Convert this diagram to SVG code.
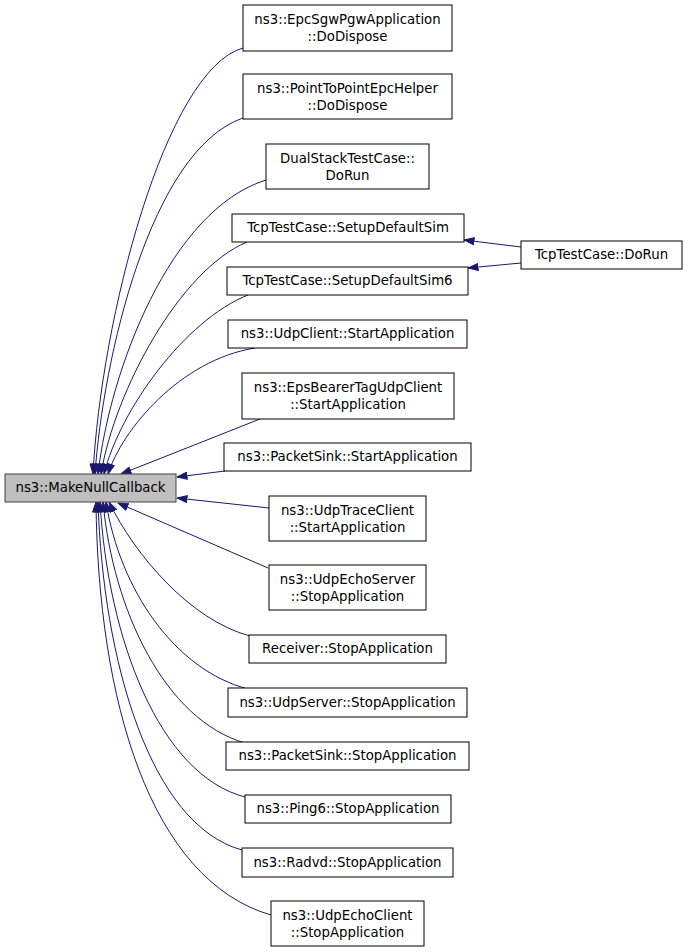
<svg xmlns="http://www.w3.org/2000/svg" width="688" height="952" viewBox="0 0 688 952">
<style>
.node rect{fill:#ffffff;stroke:#000000;stroke-width:1}
#main rect{fill:#bfbfbf;stroke:#404040}
text{font-family:"DejaVu Sans","Liberation Sans",sans-serif;font-size:13.3px;fill:#000000;text-anchor:middle}
.edge{fill:none;stroke:#191970;stroke-width:1;marker-start:url(#arrow)}
</style>
<defs>
<marker id="arrow" markerUnits="userSpaceOnUse" markerWidth="11" markerHeight="8" refX="10.5" refY="4" orient="auto-start-reverse">
<path d="M0.5,0.5 L10.5,4 L0.5,7.5 z" fill="#191970" stroke="#191970" stroke-width="1"/>
</marker>
</defs>
<rect width="688" height="952" fill="#ffffff"/>
<g id="connectors">
<path class="edge" d="M93,474 C101,320 165,70 243,48"/>
<path class="edge" d="M95,474 C103,360 150,150 243,118"/>
<path class="edge" d="M98,474 C110,370 170,210 266,180"/>
<path class="edge" d="M101,474 C115,390 180,270 247,242"/>
<path class="edge" d="M104,474 C120,410 185,320 248,295"/>
<path class="edge" d="M108,474 C122,430 180,360 255,348"/>
<path class="edge" d="M121,474 L260,419"/>
<path class="edge" d="M177,477 L225,471"/>
<path class="edge" d="M177,498 L269,508"/>
<path class="edge" d="M118,503 L268,568"/>
<path class="edge" d="M109,502 C135,555 190,620 250,636"/>
<path class="edge" d="M106,502 C120,590 175,670 248,689"/>
<path class="edge" d="M103,502 C113,610 165,720 245,743"/>
<path class="edge" d="M100,502 C108,640 160,775 245,797"/>
<path class="edge" d="M98,502 C103,660 150,825 242,850"/>
<path class="edge" d="M96,502 C98,700 150,880 271,915"/>
<path class="edge" d="M464,240 L521,247"/>
<path class="edge" d="M468,268 L521,263"/>
</g>
<g id="main" class="node"><rect x="5" y="474" width="171" height="28"/><text x="90.5" y="492">ns3::MakeNullCallback</text></g>
<g id="n1" class="node"><rect x="243" y="5" width="209" height="46"/><text x="347.5" y="24">ns3::EpcSgwPgwApplication</text><text x="347.5" y="41">::DoDispose</text></g>
<g id="n2" class="node"><rect x="243" y="74" width="209" height="45"/><text x="347.5" y="93">ns3::PointToPointEpcHelper</text><text x="347.5" y="110">::DoDispose</text></g>
<g id="n3" class="node"><rect x="266" y="144" width="163" height="45"/><text x="347.5" y="163">DualStackTestCase::</text><text x="347.5" y="180">DoRun</text></g>
<g id="n4" class="node"><rect x="232" y="214" width="232" height="28"/><text x="348" y="232">TcpTestCase::SetupDefaultSim</text></g>
<g id="n5" class="node"><rect x="227" y="267" width="241" height="28"/><text x="347.5" y="285">TcpTestCase::SetupDefaultSim6</text></g>
<g id="n17" class="node"><rect x="521" y="241" width="161" height="28"/><text x="601.5" y="259">TcpTestCase::DoRun</text></g>
<g id="n6" class="node"><rect x="228" y="320" width="239" height="28"/><text x="347.5" y="338">ns3::UdpClient::StartApplication</text></g>
<g id="n7" class="node"><rect x="242" y="373" width="212" height="46"/><text x="348" y="392">ns3::EpsBearerTagUdpClient</text><text x="348" y="409">::StartApplication</text></g>
<g id="n8" class="node"><rect x="224" y="443" width="247" height="28"/><text x="347.5" y="461">ns3::PacketSink::StartApplication</text></g>
<g id="n9" class="node"><rect x="269" y="496" width="157" height="45"/><text x="347.5" y="515">ns3::UdpTraceClient</text><text x="347.5" y="532">::StartApplication</text></g>
<g id="n10" class="node"><rect x="269" y="565" width="157" height="45"/><text x="347.5" y="584">ns3::UdpEchoServer</text><text x="347.5" y="601">::StopApplication</text></g>
<g id="n11" class="node"><rect x="249" y="635" width="197" height="28"/><text x="347.5" y="653">Receiver::StopApplication</text></g>
<g id="n12" class="node"><rect x="228" y="688" width="239" height="29"/><text x="347.5" y="706.5">ns3::UdpServer::StopApplication</text></g>
<g id="n13" class="node"><rect x="226" y="742" width="243" height="28"/><text x="347.5" y="760">ns3::PacketSink::StopApplication</text></g>
<g id="n14" class="node"><rect x="245" y="795" width="206" height="28"/><text x="348" y="813">ns3::Ping6::StopApplication</text></g>
<g id="n15" class="node"><rect x="242" y="848" width="211" height="29"/><text x="347.5" y="866.5">ns3::Radvd::StopApplication</text></g>
<g id="n16" class="node"><rect x="271" y="901" width="153" height="45"/><text x="347.5" y="920">ns3::UdpEchoClient</text><text x="347.5" y="937">::StopApplication</text></g>
</svg>
